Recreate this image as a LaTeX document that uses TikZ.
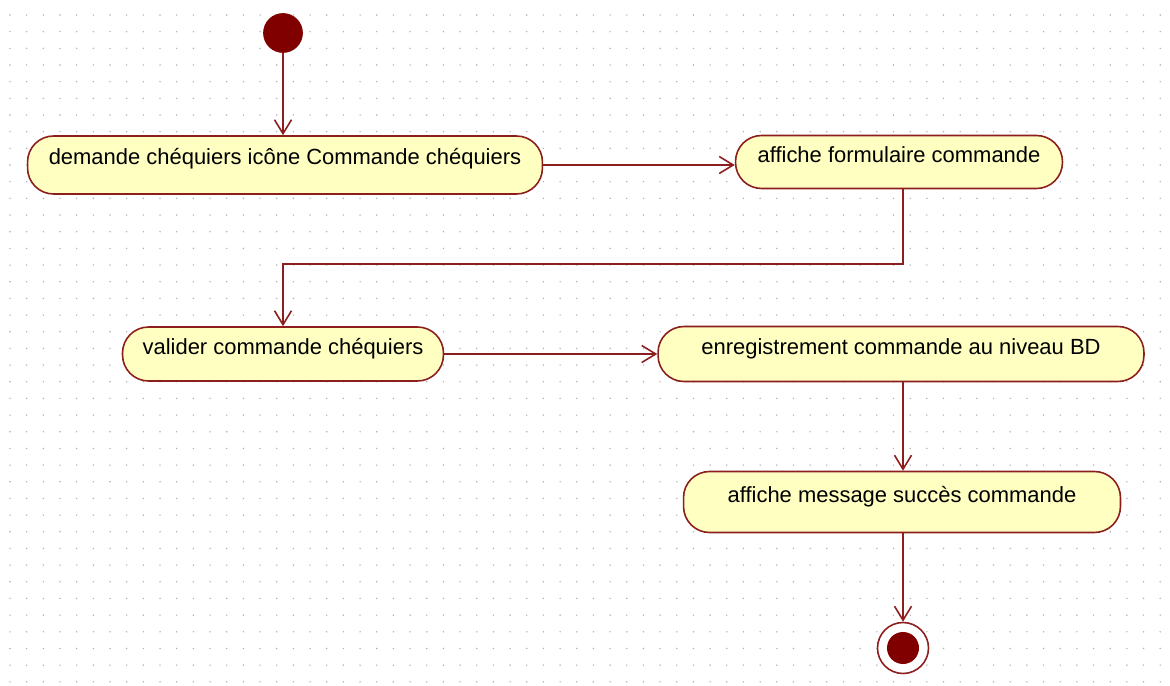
\documentclass[tikz,border=0pt]{standalone}
\usepackage{fontspec}
\setmainfont{Liberation Sans}
\usepackage{xcolor}
\usepackage{tikz}
\usetikzlibrary{arrows.meta, positioning, calc, shapes}
\definecolor{bordeaux}{RGB}{140,30,30}
\definecolor{rouge}{RGB}{128,0,0}
\definecolor{creme}{RGB}{255,255,194}
\definecolor{pointgris}{RGB}{175,175,175}
\tikzstyle{activite} = [draw=bordeaux, fill=creme, line width=0.9pt, rounded corners=0.52cm,
    font=\fontsize{12.5}{15}\selectfont, text height=9pt, text depth=9pt, inner sep=2pt]
\tikzstyle{fleche} = [bordeaux, line width=0.9pt, -{Straight Barb[length=0.28cm,width=0.34cm]}]

\begin{document}
\begin{tikzpicture}[x=0.02cm, y=-0.02cm]
    % Fond
    \useasboundingbox (0,0) rectangle (1170,686);
    \fill[white] (0,0) rectangle (1170,686);

    % Grille de points
    \foreach \i in {0,...,69}
        \foreach \j in {0,...,40}
            \fill[pointgris] (10+\i*16.67, 15+\j*16.67) circle (0.45pt);

    % Debut et fin
    \node[circle, fill=rouge, draw=rouge, minimum size=0.78cm, inner sep=0pt] (debut) at (283,33) {};
    \node[circle, draw=bordeaux, fill=white, line width=0.9pt, minimum size=1.02cm, inner sep=0pt] (fin) at (903,648) {};
    \fill[rouge] (fin.center) circle (0.32cm);

    % Activites
    \node[activite, minimum width=10.3cm, minimum height=1.16cm] (demande) at (285,165)
        {demande chéquiers icône Commande chéquiers};
    \node[activite, minimum width=6.54cm, minimum height=1.06cm] (formulaire) at (899,162)
        {affiche formulaire commande};
    \node[activite, minimum width=6.42cm, minimum height=1.08cm] (valider) at (283,354)
        {valider commande chéquiers};
    \node[activite, minimum width=9.72cm, minimum height=1.1cm] (enregistrement) at (901,354)
        {enregistrement commande au niveau BD};
    \node[activite, minimum width=8.74cm, minimum height=1.22cm] (succes) at (902,502)
        {affiche message succès commande};

    % Transitions
    \draw[fleche] (debut) -- (debut |- demande.north);
    \draw[fleche] (demande.east) -- (demande.east -| formulaire.west);
    \draw[fleche] ([xshift=0.08cm]formulaire.south) -- ++(0,75) -| (valider.north);
    \draw[fleche] (valider.east) -- (valider.east -| enregistrement.west);
    \draw[fleche] (fin |- enregistrement.south) -- (fin |- succes.north);
    \draw[fleche] (fin |- succes.south) -- (fin.north);
\end{tikzpicture}
\end{document}
